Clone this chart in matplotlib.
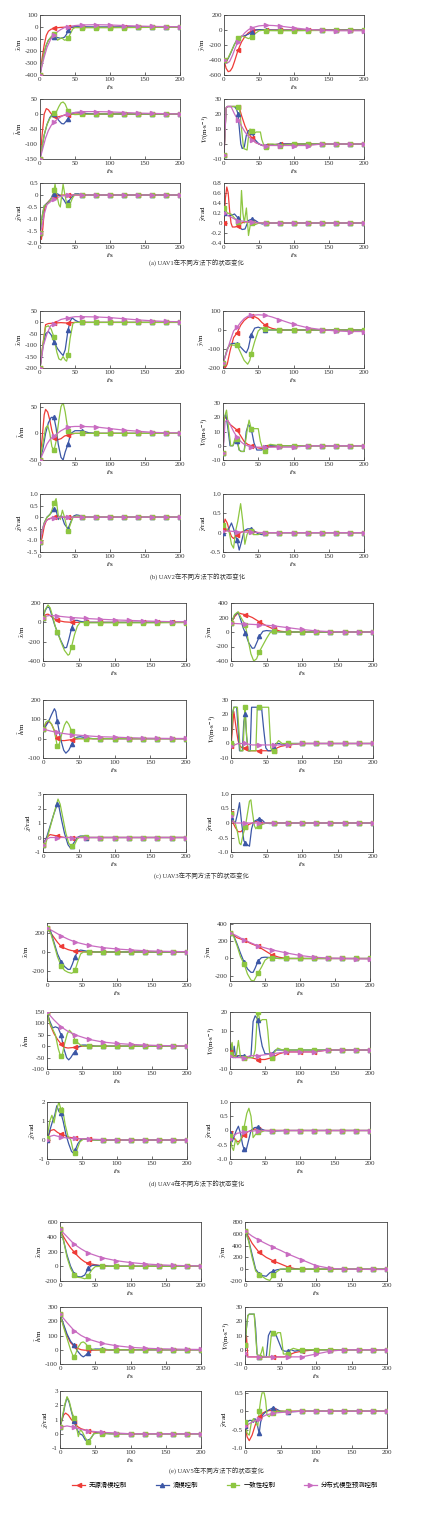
import numpy as np
import matplotlib
matplotlib.use("Agg")
import matplotlib.pyplot as plt
from matplotlib.lines import Line2D
from matplotlib.ticker import FuncFormatter

plt.rcParams['font.family'] = ['Liberation Serif', 'Noto Sans CJK SC']
plt.rcParams['mathtext.fontset'] = 'stix'
plt.rcParams['axes.unicode_minus'] = False

METHODS = ['无源滑模控制', '滑模控制', '一致性控制', '分布式模型预测控制']
COLORS = ['#ee3b37', '#3c57a6', '#8dc641', '#c96cc1']
MARKERS = ['<', '^', 's', '>']
CAPTIONS = ['(a) UAV1在不同方法下的状态变化', '(b) UAV2在不同方法下的状态变化',
            '(c) UAV3在不同方法下的状态变化', '(d) UAV4在不同方法下的状态变化',
            '(e) UAV5在不同方法下的状态变化']
YLABELS = [r'$\tilde{x}$/m', r'$\tilde{y}$/m', r'$\tilde{h}$/m',
           r'$\tilde{V}$/(m$\cdot$s$^{-1}$)', r'$\tilde{\chi}$/rad', r'$\tilde{\gamma}$/rad']

# each panel: [red, blue, green, magenta], every series is a list of (t, value)
# ---------------- UAV1 ----------------
A_X = [
    [(0, -400), (3, -260), (6, -150), (9, -70), (12, -35), (16, -18), (20, -12), (25, -6), (30, -3), (40, 0), (50, -2), (60, -3), (80, -3), (100, -2), (120, -1), (140, -1), (160, 0), (180, 0), (200, 0)],
    [(0, -400), (3, -300), (6, -210), (9, -150), (12, -110), (16, -88), (20, -80), (25, -88), (30, -95), (35, -85), (38, -60), (40, -25), (44, -3), (50, 2), (60, 2), (80, 0), (100, 0), (120, 0), (140, 0), (160, 0), (180, 0), (200, 0)],
    [(0, -400), (3, -300), (6, -210), (9, -150), (12, -110), (16, -80), (20, -60), (22, -75), (25, -110), (28, -100), (31, -90), (35, -110), (38, -105), (40, -95), (43, -60), (47, -15), (50, -5), (60, -6), (80, -6), (100, -6), (120, -5), (140, -4), (160, -3), (180, -2), (200, -2)],
    [(0, -400), (3, -320), (6, -250), (10, -170), (15, -105), (20, -65), (25, -40), (30, -20), (35, -5), (40, 3), (50, 12), (60, 17), (80, 19), (100, 17), (120, 12), (140, 8), (160, 5), (180, 3), (200, 2)],
]
A_Y = [
    [(0, -400), (3, -510), (6, -555), (9, -545), (12, -500), (15, -420), (20, -270), (25, -160), (30, -85), (35, -35), (40, -10), (45, 0), (50, 3), (60, 0), (80, 0), (100, 0), (120, 0), (140, 0), (160, 0), (180, 0), (200, 0)],
    [(0, -400), (3, -420), (6, -380), (10, -300), (15, -190), (20, -110), (25, -85), (30, -75), (35, -55), (40, -20), (45, 0), (50, 5), (60, 0), (80, -3), (100, -3), (120, -3), (140, -2), (160, -2), (180, -1), (200, -1)],
    [(0, -400), (3, -410), (6, -370), (10, -290), (15, -190), (20, -110), (25, -80), (30, -95), (35, -115), (40, -90), (45, -45), (50, -10), (55, -5), (60, -8), (80, -10), (100, -10), (120, -8), (140, -6), (160, -5), (180, -4), (200, -3)],
    [(0, -400), (4, -445), (8, -420), (12, -340), (16, -240), (20, -160), (25, -90), (30, -35), (35, 5), (40, 30), (50, 55), (60, 63), (70, 60), (80, 52), (100, 28), (120, 8), (140, -5), (160, -10), (180, -10), (200, -10)],
]
A_H = [
    [(0, -150), (3, -70), (6, 0), (9, 18), (12, 14), (15, 4), (18, -4), (20, -8), (25, -10), (30, -7), (35, -4), (40, -2), (50, 0), (60, 0), (80, 0), (100, 0), (120, 0), (140, 0), (160, 0), (180, 0), (200, 0)],
    [(0, -150), (3, -110), (6, -70), (10, -35), (14, -12), (18, 0), (20, 0), (23, -8), (27, -22), (31, -32), (34, -33), (37, -25), (40, -15), (44, 0), (50, 5), (55, 5), (60, 3), (70, 1), (80, 0), (100, 0), (120, 0), (140, 0), (160, 0), (180, 0), (200, 0)],
    [(0, -150), (3, -110), (6, -70), (10, -35), (14, -15), (18, -3), (20, 3), (24, 10), (27, 25), (30, 37), (33, 40), (36, 33), (40, 10), (44, 0), (50, -2), (60, -1), (80, 0), (100, 0), (120, 0), (140, 0), (160, 0), (180, 0), (200, 0)],
    [(0, -150), (4, -115), (8, -80), (12, -55), (16, -38), (20, -27), (25, -17), (30, -9), (35, -3), (40, 1), (50, 5), (60, 8), (80, 8), (100, 7), (120, 5), (140, 3), (160, 2), (180, 1), (200, 0)],
]
A_V = [
    [(0, -7), (3, 24), (5, 25), (20, 25), (22, 24), (25, 19), (30, 12), (35, 7), (40, 4), (45, 1), (50, 0), (55, -1), (60, -1), (80, 0), (100, 0), (120, 0), (140, 0), (160, 0), (180, 0), (200, 0)],
    [(0, -7), (3, 24), (5, 25), (15, 25), (18, 23), (20, 20), (22, 10), (24, 0), (26, -3), (29, -2), (32, 6), (35, 9), (40, 8), (44, 3), (50, 0), (55, -1), (60, -1), (80, 0), (100, 0), (120, 0), (140, 0), (160, 0), (180, 0), (200, 0)],
    [(0, -7), (3, 24), (5, 25), (20, 25), (22, 24), (25, 10), (28, -3), (33, -4), (35, 5), (37, 10), (40, 9), (43, 7), (46, 8), (52, 8), (54, 3), (57, -1), (60, -2), (62, 0), (70, 0), (80, -1), (100, 0), (120, 0), (140, 0), (160, 0), (180, 0), (200, 0)],
    [(0, -7), (3, 24), (5, 25), (10, 25), (15, 20), (20, 16), (25, 12), (30, 8), (35, 5), (40, 3), (45, 1), (55, -1), (60, -1), (80, -1), (100, -1), (120, -1), (140, 0), (160, 0), (180, 0), (200, 0)],
]
A_CHI = [
    [(0, -1.6), (2, -1.85), (4, -1.4), (6, -0.7), (8, -0.4), (12, -0.28), (16, -0.15), (20, -0.05), (30, 0), (40, 0), (60, 0), (80, 0), (100, 0), (120, 0), (140, 0), (160, 0), (180, 0), (200, 0)],
    [(0, -1.6), (3, -0.9), (6, -0.45), (10, -0.35), (15, -0.2), (18, 0), (20, 0.05), (25, 0.05), (30, -0.05), (34, -0.2), (37, -0.35), (40, -0.3), (45, -0.1), (50, 0.05), (55, 0.05), (60, 0), (80, 0), (100, 0), (120, 0), (140, 0), (160, 0), (180, 0), (200, 0)],
    [(0, -1.6), (3, -0.9), (6, -0.45), (10, -0.38), (15, -0.2), (18, -0.05), (20, 0.2), (21.5, 0.45), (24, 0.0), (27, -0.4), (29, -0.5), (31, 0), (33, 0.45), (35, 0.1), (38, -0.35), (40, -0.4), (42, -0.45), (46, -0.15), (50, 0.03), (55, 0.02), (60, 0), (80, 0), (100, 0), (120, 0), (140, 0), (160, 0), (180, 0), (200, 0)],
    [(0, -1.6), (3, -1.3), (6, -0.8), (10, -0.4), (15, -0.28), (20, -0.15), (30, -0.05), (40, 0), (60, 0), (80, 0), (100, 0), (120, 0), (140, 0), (160, 0), (180, 0), (200, 0)],
]
A_GAM = [
    [(0, 0), (2, 0.5), (4, 0.72), (6, 0.6), (8, 0.25), (10, 0), (12, -0.08), (16, -0.08), (20, -0.05), (25, 0), (30, 0.02), (40, 0.02), (50, 0), (60, 0), (80, 0), (100, 0), (120, 0), (140, 0), (160, 0), (180, 0), (200, 0)],
    [(0, 0.2), (5, 0.15), (10, 0.15), (15, 0.18), (20, 0.1), (23, -0.1), (26, -0.13), (30, -0.12), (35, 0.05), (40, 0.08), (45, 0.05), (50, 0), (55, -0.02), (60, 0), (80, 0), (100, 0), (120, 0), (140, 0), (160, 0), (180, 0), (200, 0)],
    [(0, 0.3), (5, 0.2), (10, 0.18), (15, 0.1), (20, 0.02), (23, -0.05), (25, 0.65), (27, 0.2), (29, 0.0), (32, 0.3), (35, -0.25), (38, 0.0), (40, 0), (45, -0.03), (50, 0), (60, 0), (80, 0), (100, 0), (120, 0), (140, 0), (160, 0), (180, 0), (200, 0)],
    [(0, 0.2), (5, 0.15), (10, 0.12), (15, 0.08), (20, 0.05), (30, 0.03), (40, 0.02), (50, 0), (60, 0), (80, 0), (100, 0), (120, 0), (140, 0), (160, 0), (180, 0), (200, 0)],
]

# ---------------- UAV2 ----------------
B_X = [
    [(0, -200), (4, -100), (8, -10), (12, -5), (20, -3), (30, -1), (40, -3), (50, 0), (60, 0), (80, 0), (100, 0), (120, 0), (140, 0), (160, 0), (180, 0), (200, 0)],
    [(0, -200), (4, -110), (8, -50), (12, -40), (16, -55), (20, -85), (25, -115), (30, -135), (33, -145), (36, -120), (40, -35), (43, 5), (46, 20), (50, 10), (55, 2), (60, 0), (80, 0), (100, 0), (120, 0), (140, 0), (160, 0), (180, 0), (200, 0)],
    [(0, -200), (4, -100), (8, -20), (12, -15), (16, -30), (20, -65), (24, -130), (27, -160), (30, -165), (33, -150), (36, -165), (38, -170), (40, -145), (43, -70), (47, -5), (50, 0), (60, 0), (80, 0), (100, 0), (120, 0), (140, 0), (160, 0), (180, 0), (200, 0)],
    [(0, -200), (5, -100), (10, -50), (15, -15), (20, -5), (25, 5), (30, 13), (40, 20), (50, 25), (60, 25), (80, 24), (100, 21), (120, 16), (140, 11), (160, 7), (180, 4), (200, 3)],
]
B_Y = [
    [(0, -180), (3, -200), (6, -180), (10, -110), (15, -40), (20, -15), (25, 25), (30, 50), (35, 65), (40, 72), (45, 70), (50, 60), (55, 40), (60, 25), (65, 15), (70, 8), (80, 0), (100, 0), (120, 0), (140, 0), (160, 0), (180, 0), (200, 0)],
    [(0, -175), (3, -140), (6, -100), (10, -75), (15, -70), (20, -72), (25, -90), (30, -110), (33, -120), (36, -95), (40, -25), (45, 10), (50, 15), (55, 8), (60, 0), (80, 0), (100, 0), (120, 0), (140, 0), (160, 0), (180, 0), (200, 0)],
    [(0, -175), (3, -140), (6, -100), (10, -78), (15, -80), (20, -80), (25, -120), (30, -160), (35, -180), (38, -160), (40, -125), (45, -60), (50, -5), (55, 12), (60, 5), (70, 0), (80, 0), (100, 0), (120, 0), (140, 0), (160, 0), (180, 0), (200, 0)],
    [(0, -175), (5, -120), (10, -60), (15, -5), (20, 15), (25, 40), (30, 60), (35, 72), (40, 77), (50, 80), (60, 78), (70, 68), (80, 55), (100, 30), (120, 12), (140, 2), (160, -5), (180, -8), (200, -8)],
]
B_H = [
    [(0, -50), (3, -10), (6, 35), (8, 45), (11, 40), (14, 25), (17, 5), (20, -8), (25, -12), (30, -10), (35, -5), (40, -3), (50, 0), (60, 0), (80, 0), (100, 0), (120, 0), (140, 0), (160, 0), (180, 0), (200, 0)],
    [(0, -50), (4, -30), (8, 0), (12, 20), (16, 30), (20, 30), (23, 10), (26, -20), (30, -45), (33, -50), (36, -35), (40, -20), (44, 0), (50, 5), (55, 5), (60, 5), (70, 1), (80, 0), (100, 0), (120, 0), (140, 0), (160, 0), (180, 0), (200, 0)],
    [(0, -50), (4, -20), (8, 10), (11, 15), (14, 0), (17, -25), (20, -32), (23, -15), (27, 25), (30, 50), (33, 58), (36, 40), (40, 5), (44, 0), (50, 0), (60, 0), (80, 0), (100, 0), (120, 0), (140, 0), (160, 0), (180, 0), (200, 0)],
    [(0, -50), (5, -35), (10, -20), (15, -10), (20, -5), (30, 5), (40, 12), (50, 13), (60, 13), (80, 12), (100, 9), (120, 6), (140, 4), (160, 2), (180, 1), (200, 1)],
]
B_V = [
    [(0, -5), (2, 20), (5, 19), (10, 15), (15, 13), (20, 11), (25, 7), (30, 3), (35, 1), (40, 0), (45, -1), (55, -2), (60, -1), (80, 0), (100, 0), (120, 0), (140, 0), (160, 0), (180, 0), (200, 0)],
    [(0, -5), (2, 20), (4, 22), (7, 12), (10, 0), (14, 0), (17, 3), (20, 3), (23, -3), (26, -4), (30, -4), (33, 10), (36, 15), (40, 12), (44, 2), (48, -3), (55, -3), (60, -1), (65, 0), (80, 0), (100, 0), (120, 0), (140, 0), (160, 0), (180, 0), (200, 0)],
    [(0, -5), (2, 20), (5, 25), (8, 12), (11, 0), (14, 0), (17, 5), (20, 5), (23, -3), (26, -4), (30, -4), (34, 10), (37, 18), (40, 12), (44, 12), (50, 12), (53, 3), (57, -3), (60, -4), (63, 0), (67, 1), (80, 0), (100, 0), (120, 0), (140, 0), (160, 0), (180, 0), (200, 0)],
    [(0, -5), (3, 17), (6, 18), (10, 15), (15, 10), (20, 6), (25, 3), (30, 1), (40, -1), (60, -1), (80, -1), (100, -1), (120, 0), (140, 0), (160, 0), (180, 0), (200, 0)],
]
B_CHI = [
    [(0, -1.05), (3, -0.9), (6, -0.4), (9, -0.15), (12, -0.08), (20, 0), (40, 0), (60, 0), (80, 0), (100, 0), (120, 0), (140, 0), (160, 0), (180, 0), (200, 0)],
    [(0, -1.05), (3, -0.6), (6, -0.25), (10, 0), (15, 0.15), (20, 0.35), (23, 0.3), (26, -0.1), (29, 0.05), (31, 0.05), (35, -0.3), (40, -0.5), (44, -0.2), (48, 0.05), (52, 0.1), (56, 0.08), (60, 0), (80, 0), (100, 0), (120, 0), (140, 0), (160, 0), (180, 0), (200, 0)],
    [(0, -1.05), (3, -0.6), (6, -0.25), (10, 0), (14, 0.1), (17, 0.3), (20, 0.6), (23, 0.8), (26, 0.1), (29, -0.1), (32, 0.3), (35, 0), (38, -0.4), (40, -0.6), (43, -0.35), (47, 0), (52, 0.05), (56, 0.05), (60, 0), (80, 0), (100, 0), (120, 0), (140, 0), (160, 0), (180, 0), (200, 0)],
    [(0, -1.05), (3, -0.6), (6, -0.3), (10, -0.12), (15, -0.06), (20, -0.03), (30, 0), (40, 0), (60, 0), (80, 0), (100, 0), (120, 0), (140, 0), (160, 0), (180, 0), (200, 0)],
]
B_GAM = [
    [(0, 0.1), (3, 0.35), (6, 0.25), (9, 0.05), (12, -0.1), (15, -0.15), (18, -0.1), (20, -0.05), (25, 0), (30, 0.05), (40, 0.05), (50, 0), (60, 0), (80, 0), (100, 0), (120, 0), (140, 0), (160, 0), (180, 0), (200, 0)],
    [(0, 0.0), (3, 0.1), (7, 0.05), (12, 0.25), (15, 0.1), (18, -0.1), (20, -0.2), (23, -0.45), (26, -0.25), (30, 0.05), (35, 0.1), (40, 0.1), (45, 0.03), (50, -0.03), (55, -0.05), (60, 0), (80, 0), (100, 0), (120, 0), (140, 0), (160, 0), (180, 0), (200, 0)],
    [(0, 0.2), (3, 0.05), (6, 0.1), (9, 0), (12, -0.3), (15, -0.4), (18, 0.05), (21, 0.3), (25, 0.75), (28, 0.3), (31, -0.3), (34, -0.05), (37, 0.05), (40, 0.05), (43, -0.05), (50, -0.05), (55, 0), (60, 0), (80, 0), (100, 0), (120, 0), (140, 0), (160, 0), (180, 0), (200, 0)],
    [(0, 0.05), (10, 0.04), (20, 0.02), (40, 0.01), (60, 0), (80, 0), (100, 0), (120, 0), (140, 0), (160, 0), (180, 0), (200, 0)],
]

# ---------------- UAV3 ----------------
C_X = [
    [(0, 50), (4, 80), (7, 85), (10, 70), (15, 40), (20, 20), (30, 5), (40, 0), (60, 0), (80, 0), (100, 0), (120, 0), (140, 0), (160, 0), (180, 0), (200, 0)],
    [(0, 50), (3, 120), (6, 160), (9, 150), (12, 80), (16, -20), (20, -100), (25, -190), (30, -265), (33, -260), (36, -180), (40, -60), (44, 20), (48, 20), (52, 10), (60, 0), (80, 0), (100, 0), (120, 0), (140, 0), (160, 0), (180, 0), (200, 0)],
    [(0, 50), (3, 130), (7, 180), (10, 150), (14, 50), (17, -40), (20, -100), (25, -200), (30, -290), (35, -340), (37, -330), (40, -250), (44, -130), (48, -40), (52, 0), (60, -5), (80, -5), (100, -5), (120, -5), (140, -5), (160, -5), (180, -3), (200, -3)],
    [(0, 50), (5, 65), (10, 72), (20, 65), (30, 57), (40, 50), (60, 40), (80, 32), (100, 25), (120, 20), (140, 15), (160, 10), (180, 7), (200, 5)],
]
C_Y = [
    [(0, 120), (5, 210), (10, 265), (15, 250), (20, 240), (30, 200), (40, 140), (50, 85), (60, 40), (70, 10), (80, 0), (100, 0), (120, 0), (140, 0), (160, 0), (180, 0), (200, 0)],
    [(0, 120), (5, 230), (10, 270), (14, 160), (17, 60), (20, -10), (25, -150), (30, -225), (33, -220), (37, -130), (40, -60), (45, 10), (50, 20), (55, 15), (60, 10), (70, 0), (80, 0), (100, 0), (120, 0), (140, 0), (160, 0), (180, 0), (200, 0)],
    [(0, 120), (5, 240), (10, 280), (14, 200), (20, 100), (24, -100), (28, -300), (32, -400), (36, -370), (40, -270), (45, -180), (50, -90), (55, -10), (60, 10), (70, 0), (80, 0), (100, 0), (120, 0), (140, 0), (160, 0), (180, 0), (200, 0)],
    [(0, 120), (10, 115), (20, 110), (30, 105), (40, 100), (60, 85), (80, 60), (100, 35), (120, 15), (140, 5), (160, 0), (180, 0), (200, 0)],
]
C_H = [
    [(0, 50), (4, 75), (8, 90), (12, 75), (16, 40), (20, 5), (25, -10), (30, -10), (40, -5), (50, 0), (60, 0), (80, 0), (100, 0), (120, 0), (140, 0), (160, 0), (180, 0), (200, 0)],
    [(0, 50), (4, 65), (8, 90), (12, 125), (16, 155), (18, 140), (20, 90), (23, 30), (26, -20), (29, -60), (32, -75), (36, -60), (40, -30), (44, 0), (48, 8), (52, 10), (60, 5), (70, 0), (80, 0), (100, 0), (120, 0), (140, 0), (160, 0), (180, 0), (200, 0)],
    [(0, 50), (4, 85), (8, 95), (12, 75), (15, 50), (18, 0), (20, -40), (23, -25), (26, 20), (30, 70), (33, 90), (36, 75), (40, 40), (44, 5), (48, 0), (60, 0), (80, 0), (100, 0), (120, 0), (140, 0), (160, 0), (180, 0), (200, 0)],
    [(0, 50), (10, 40), (20, 32), (30, 26), (40, 21), (60, 15), (80, 10), (100, 8), (120, 5), (140, 3), (160, 2), (180, 1), (200, 1)],
]
C_V = [
    [(0, -2), (2, 10), (4, 22), (6, 15), (8, 8), (10, 2), (13, -2), (16, -3), (20, -3), (25, -5), (40, -5), (50, -5), (60, -5), (65, -3), (70, -2), (80, -1), (100, 0), (120, 0), (140, 0), (160, 0), (180, 0), (200, 0)],
    [(0, 0), (2, 20), (4, 25), (8, 25), (10, 10), (12, -5), (16, -5), (18, 15), (20, 20), (22, 5), (24, -5), (27, -5), (29, 25), (40, 25), (43, 25), (46, 10), (49, -3), (52, -5), (56, -5), (60, -3), (63, 0), (68, 0), (72, -1), (80, 0), (100, 0), (120, 0), (140, 0), (160, 0), (180, 0), (200, 0)],
    [(0, 0), (2, 20), (4, 25), (9, 25), (11, 10), (13, -5), (17, -5), (19, 20), (20, 25), (22, 5), (24, -5), (35, -5), (37, 25), (40, 25), (53, 25), (56, -3), (58, -5), (60, -5), (64, 0), (67, 2), (72, 0), (80, 0), (100, 0), (120, 0), (140, 0), (160, 0), (180, 0), (200, 0)],
    [(0, -2), (5, -1), (10, 0), (20, 0), (30, -1), (40, -1), (60, -1), (80, -1), (100, 0), (120, 0), (140, 0), (160, 0), (180, 0), (200, 0)],
]
C_CHI = [
    [(0, -0.5), (5, 0), (10, 0.2), (15, 0.15), (20, 0.1), (30, 0), (40, 0), (60, 0), (80, 0), (100, 0), (120, 0), (140, 0), (160, 0), (180, 0), (200, 0)],
    [(0, -0.5), (5, 0), (10, 0.8), (15, 1.6), (20, 2.3), (22, 2.2), (26, 1.2), (30, 0.3), (35, -0.5), (38, -0.7), (40, -0.6), (44, -0.3), (48, 0), (52, 0.1), (57, 0.1), (60, 0), (80, 0), (100, 0), (120, 0), (140, 0), (160, 0), (180, 0), (200, 0)],
    [(0, -0.5), (4, -0.4), (10, 0.7), (15, 1.6), (21, 2.65), (24, 2.3), (28, 1.3), (32, 0.3), (36, -0.4), (40, -0.6), (44, -0.5), (48, -0.1), (52, 0.05), (56, 0.1), (60, 0.05), (65, 0), (80, 0), (100, 0), (120, 0), (140, 0), (160, 0), (180, 0), (200, 0)],
    [(0, -0.5), (5, -0.1), (10, 0), (20, 0), (40, 0), (60, 0), (80, 0), (100, 0), (120, 0), (140, 0), (160, 0), (180, 0), (200, 0)],
]
C_GAM = [
    [(0, 0.35), (3, 0), (6, -0.15), (10, -0.3), (14, -0.3), (18, -0.2), (20, -0.15), (25, -0.05), (30, 0), (35, 0.05), (40, 0.05), (45, 0), (60, 0), (80, 0), (100, 0), (120, 0), (140, 0), (160, 0), (180, 0), (200, 0)],
    [(0, 0.2), (3, 0.05), (6, 0.0), (9, 0.3), (12, 0.7), (15, 0), (18, -0.6), (20, -0.7), (23, -0.75), (26, -0.8), (29, -0.2), (32, 0.05), (36, 0.1), (40, 0.15), (44, 0.1), (48, 0), (55, -0.02), (60, 0), (80, 0), (100, 0), (120, 0), (140, 0), (160, 0), (180, 0), (200, 0)],
    [(0, 0.3), (3, 0.1), (6, 0), (9, -0.3), (12, -0.7), (14, -0.75), (17, -0.4), (20, -0.15), (23, 0.3), (26, 0.75), (28, 0.8), (30, 0.4), (33, -0.1), (35, -0.2), (38, -0.1), (40, -0.1), (44, -0.05), (50, 0), (60, 0), (80, 0), (100, 0), (120, 0), (140, 0), (160, 0), (180, 0), (200, 0)],
    [(0, 0.25), (3, 0.05), (6, 0), (10, 0), (20, 0), (40, 0), (60, 0), (80, 0), (100, 0), (120, 0), (140, 0), (160, 0), (180, 0), (200, 0)],
]

# ---------------- UAV4 ----------------
D_X = [
    [(0, 250), (5, 200), (10, 150), (15, 100), (20, 60), (25, 40), (30, 25), (35, 15), (40, 10), (45, 5), (50, 2), (60, 0), (80, 0), (100, 0), (120, 0), (140, 0), (160, 0), (180, 0), (200, 0)],
    [(0, 250), (5, 220), (10, 100), (15, -20), (20, -100), (25, -150), (30, -180), (33, -180), (36, -130), (40, -50), (44, 10), (48, 20), (52, 15), (60, 5), (70, 0), (80, 0), (100, 0), (120, 0), (140, 0), (160, 0), (180, 0), (200, 0)],
    [(0, 250), (5, 200), (10, 80), (15, -50), (20, -140), (25, -190), (30, -210), (35, -220), (38, -210), (40, -190), (44, -100), (48, -20), (52, 0), (60, 0), (80, 0), (100, 0), (120, 0), (140, 0), (160, 0), (180, 0), (200, 0)],
    [(0, 250), (10, 210), (20, 168), (30, 133), (40, 104), (60, 68), (80, 45), (100, 31), (120, 21), (140, 13), (160, 8), (180, 5), (200, 3)],
]
D_Y = [
    [(0, 300), (5, 270), (10, 240), (20, 212), (30, 172), (40, 140), (50, 90), (60, 40), (70, 15), (80, 0), (100, 0), (120, 0), (140, 0), (160, 0), (180, 0), (200, 0)],
    [(0, 300), (5, 270), (10, 170), (15, 60), (20, -40), (25, -120), (30, -160), (33, -160), (36, -110), (40, -30), (45, 10), (50, 15), (60, 10), (70, 0), (80, 0), (100, 0), (120, 0), (140, 0), (160, 0), (180, 0), (200, 0)],
    [(0, 300), (5, 260), (10, 150), (15, 20), (20, -60), (25, -180), (30, -250), (34, -260), (38, -200), (40, -170), (45, -100), (50, -20), (55, 10), (60, 5), (70, 0), (80, 0), (100, 0), (120, 0), (140, 0), (160, 0), (180, 0), (200, 0)],
    [(0, 300), (10, 260), (20, 215), (30, 180), (40, 145), (60, 100), (80, 65), (100, 35), (120, 15), (140, 5), (160, 0), (180, -3), (200, -5)],
]
D_H = [
    [(0, 150), (5, 90), (10, 55), (15, 30), (20, 10), (25, -5), (30, -8), (40, -5), (50, 0), (60, 0), (80, 0), (100, 0), (120, 0), (140, 0), (160, 0), (180, 0), (200, 0)],
    [(0, 150), (4, 110), (8, 80), (12, 85), (16, 80), (20, 50), (24, -10), (28, -50), (31, -60), (34, -50), (38, -30), (40, -25), (44, -5), (50, 5), (55, 5), (60, 3), (70, 0), (80, 0), (100, 0), (120, 0), (140, 0), (160, 0), (180, 0), (200, 0)],
    [(0, 150), (4, 100), (8, 75), (12, 50), (16, -10), (19, -40), (20, -42), (22, -35), (25, 10), (29, 55), (32, 70), (35, 60), (38, 45), (40, 25), (44, 15), (48, 5), (52, 0), (60, 0), (80, 0), (100, 0), (120, 0), (140, 0), (160, 0), (180, 0), (200, 0)],
    [(0, 150), (10, 115), (20, 85), (30, 65), (40, 50), (60, 30), (80, 18), (100, 12), (120, 8), (140, 5), (160, 3), (180, 2), (200, 1)],
]
D_V = [
    [(0, -1), (2, 3), (4, -3), (8, -3), (12, -3), (16, -3), (20, -4), (30, -4), (40, -5), (50, -5), (60, -4), (70, -2), (80, -1), (100, -1), (120, -1), (140, 0), (160, 0), (180, 0), (200, 0)],
    [(0, -2), (2, 3), (4, -4), (6, 2), (8, -4), (12, -3), (16, -3), (20, -3), (25, -4), (30, -3), (33, 15), (36, 18), (40, 16), (43, 8), (46, 2), (50, -2), (55, -2), (60, -2), (65, 0), (80, 0), (100, 0), (120, 0), (140, 0), (160, 0), (180, 0), (200, 0)],
    [(0, -2), (3, 4), (5, -4), (9, -3), (12, 5), (15, -4), (20, -4), (25, -4), (30, -4), (33, -4), (36, 0), (39, 18), (40, 20), (43, 15), (46, 16), (52, 16), (54, 10), (57, -3), (60, -4), (64, -1), (68, 1), (75, 0), (80, 0), (100, 0), (120, 0), (140, 0), (160, 0), (180, 0), (200, 0)],
    [(0, -3), (5, -4), (10, -4), (20, -4), (30, -3), (40, -3), (60, -2), (80, -1), (100, -1), (120, -1), (140, 0), (160, 0), (180, 0), (200, 0)],
]
D_CHI = [
    [(0, 0), (5, 0.5), (10, 0.55), (15, 0.4), (20, 0.3), (25, 0.25), (30, 0.15), (40, 0.1), (50, 0.05), (60, 0.03), (80, 0), (100, 0), (120, 0), (140, 0), (160, 0), (180, 0), (200, 0)],
    [(0, 0), (4, 0.5), (8, 1.0), (11, 1.3), (14, 1.8), (17, 1.5), (20, 1.4), (23, 1.0), (27, 0.3), (31, -0.2), (35, -0.6), (38, -0.7), (40, -0.55), (44, -0.2), (48, 0), (52, 0.05), (58, 0.05), (62, 0), (80, 0), (100, 0), (120, 0), (140, 0), (160, 0), (180, 0), (200, 0)],
    [(0, 0.1), (4, 1.0), (7, 1.3), (10, 0.9), (13, 1.5), (17, 2.0), (20, 1.6), (22, 1.7), (26, 0.8), (30, 0.2), (34, 0), (37, -0.5), (40, -0.7), (43, -0.5), (47, -0.1), (52, 0.05), (58, 0.05), (62, 0), (80, 0), (100, 0), (120, 0), (140, 0), (160, 0), (180, 0), (200, 0)],
    [(0, 0), (5, 0.2), (10, 0.25), (20, 0.15), (30, 0.1), (40, 0.08), (60, 0.05), (80, 0.02), (100, 0), (120, 0), (140, 0), (160, 0), (180, 0), (200, 0)],
]
D_GAM = [
    [(0, -0.1), (4, -0.2), (8, -0.35), (12, -0.4), (16, -0.3), (20, -0.15), (25, -0.05), (30, 0), (35, 0.05), (40, 0.05), (45, 0), (60, 0), (80, 0), (100, 0), (120, 0), (140, 0), (160, 0), (180, 0), (200, 0)],
    [(0, -0.1), (3, -0.4), (6, -0.2), (9, 0), (12, 0.15), (15, -0.1), (18, -0.5), (20, -0.65), (23, -0.7), (26, -0.4), (30, 0), (35, 0.1), (40, 0.12), (45, 0.05), (50, 0), (60, -0.02), (80, 0), (100, 0), (120, 0), (140, 0), (160, 0), (180, 0), (200, 0)],
    [(0, -0.2), (3, -0.6), (5, -0.7), (8, -0.3), (11, -0.5), (14, -0.4), (17, -0.2), (20, 0.1), (24, 0.6), (27, 0.78), (30, 0.5), (33, -0.25), (36, -0.15), (40, -0.05), (45, -0.05), (50, 0), (60, 0), (80, 0), (100, 0), (120, 0), (140, 0), (160, 0), (180, 0), (200, 0)],
    [(0, -0.3), (5, -0.2), (10, -0.1), (20, -0.05), (40, 0), (60, 0), (80, 0), (100, 0), (120, 0), (140, 0), (160, 0), (180, 0), (200, 0)],
]

# ---------------- UAV5 ----------------
E_X = [
    [(0, 500), (5, 400), (10, 320), (15, 250), (20, 195), (25, 140), (30, 95), (35, 60), (40, 40), (50, 20), (60, 5), (70, 0), (80, 0), (100, 0), (120, 0), (140, 0), (160, 0), (180, 0), (200, 0)],
    [(0, 500), (5, 350), (10, 150), (15, 0), (20, -100), (25, -140), (30, -145), (35, -120), (40, -30), (45, 10), (50, 15), (60, 5), (70, 0), (80, 0), (100, 0), (120, 0), (140, 0), (160, 0), (180, 0), (200, 0)],
    [(0, 500), (5, 350), (10, 120), (15, -30), (20, -120), (25, -150), (30, -155), (35, -170), (38, -160), (40, -130), (45, -50), (50, -5), (60, 0), (80, 0), (100, 0), (120, 0), (140, 0), (160, 0), (180, 0), (200, 0)],
    [(0, 500), (10, 400), (20, 300), (30, 235), (40, 180), (60, 115), (80, 75), (100, 50), (120, 32), (140, 20), (160, 12), (180, 7), (200, 3)],
]
E_Y = [
    [(0, 650), (5, 550), (10, 440), (15, 360), (20, 285), (30, 200), (40, 140), (50, 90), (60, 40), (70, 10), (80, 0), (100, 0), (120, 0), (140, 0), (160, 0), (180, 0), (200, 0)],
    [(0, 650), (5, 500), (10, 250), (15, 0), (20, -80), (25, -110), (30, -120), (35, -60), (40, -30), (45, -10), (50, 0), (60, 0), (80, 0), (100, 0), (120, 0), (140, 0), (160, 0), (180, 0), (200, 0)],
    [(0, 650), (5, 480), (10, 200), (15, -30), (20, -90), (25, -130), (30, -170), (35, -190), (40, -100), (45, -40), (50, 0), (55, 5), (60, 0), (80, 0), (100, 0), (120, 0), (140, 0), (160, 0), (180, 0), (200, 0)],
    [(0, 650), (10, 560), (20, 490), (30, 430), (40, 370), (50, 320), (60, 260), (80, 160), (100, 60), (120, 15), (140, 0), (160, 0), (180, -5), (200, -5)],
]
E_H = [
    [(0, 250), (5, 170), (10, 100), (15, 50), (20, 25), (25, 10), (30, 0), (35, -3), (40, -3), (50, -3), (60, -2), (80, -1), (100, 0), (120, 0), (140, 0), (160, 0), (180, 0), (200, 0)],
    [(0, 250), (5, 180), (10, 110), (15, 60), (20, 30), (25, -10), (30, -40), (33, -50), (36, -40), (40, -20), (45, 0), (50, 5), (60, 5), (70, 0), (80, 0), (100, 0), (120, 0), (140, 0), (160, 0), (180, 0), (200, 0)],
    [(0, 250), (5, 160), (10, 80), (15, 0), (19, -50), (20, -48), (22, -30), (26, 20), (30, 50), (33, 55), (36, 45), (40, 20), (45, 5), (50, 0), (60, 0), (80, 0), (100, 0), (120, 0), (140, 0), (160, 0), (180, 0), (200, 0)],
    [(0, 250), (10, 190), (20, 135), (30, 100), (40, 75), (60, 45), (80, 28), (100, 17), (120, 11), (140, 7), (160, 5), (180, 3), (200, 2)],
]
E_V = [
    [(0, 3), (2, 10), (4, -5), (10, -5), (20, -5), (30, -5), (40, -5), (50, -5), (55, -5), (60, -4), (70, -2), (80, -1), (100, 0), (120, 0), (140, 0), (160, 0), (180, 0), (200, 0)],
    [(0, 3), (2, 15), (4, 24), (6, 25), (13, 25), (15, 15), (17, -3), (20, -5), (25, -5), (30, -5), (33, 10), (36, 13), (40, 12), (44, 10), (48, 5), (52, 0), (56, -1), (60, -1), (65, 0), (70, -1), (80, 0), (100, 0), (120, 0), (140, 0), (160, 0), (180, 0), (200, 0)],
    [(0, 3), (2, 15), (4, 24), (6, 25), (13, 25), (15, 10), (17, -3), (20, -5), (23, -2), (25, 2), (27, -5), (30, -5), (34, -5), (37, 10), (40, 12), (43, 10), (46, 12), (50, 12), (52, 6), (54, -3), (60, -3), (64, 0), (68, 1), (75, 0), (80, 0), (100, 0), (120, 0), (140, 0), (160, 0), (180, 0), (200, 0)],
    [(0, -2), (3, -5), (10, -5), (20, -5), (40, -5), (60, -5), (80, -5), (90, -4), (100, -3), (120, -1), (140, 0), (160, 0), (180, 0), (200, 0)],
]
E_CHI = [
    [(0, 0.5), (5, 1.3), (8, 1.45), (12, 1.3), (16, 1.0), (20, 0.8), (25, 0.5), (30, 0.35), (40, 0.2), (50, 0.1), (60, 0.05), (80, 0), (100, 0), (120, 0), (140, 0), (160, 0), (180, 0), (200, 0)],
    [(0, 0.5), (3, 1.0), (7, 2.0), (10, 2.55), (13, 2.2), (17, 1.4), (20, 0.9), (24, 0.3), (28, 0), (32, -0.1), (36, -0.45), (40, -0.5), (44, -0.3), (48, 0), (55, 0.1), (60, 0.05), (70, 0), (80, 0), (100, 0), (120, 0), (140, 0), (160, 0), (180, 0), (200, 0)],
    [(0, 0.5), (3, 1.1), (7, 2.1), (10, 2.6), (13, 2.3), (17, 1.5), (20, 1.1), (23, 0.6), (26, -0.2), (29, 0.3), (32, 0.1), (36, -0.3), (40, -0.55), (44, -0.3), (48, 0), (55, 0.05), (60, 0), (80, 0), (100, 0), (120, 0), (140, 0), (160, 0), (180, 0), (200, 0)],
    [(0, 0.5), (5, 0.5), (10, 0.55), (15, 0.5), (20, 0.45), (30, 0.3), (40, 0.2), (50, 0.15), (60, 0.1), (80, 0.05), (100, 0), (120, 0), (140, 0), (160, 0), (180, 0), (200, 0)],
]
E_GAM = [
    [(0, -0.4), (3, -0.7), (6, -0.8), (10, -0.65), (14, -0.4), (18, -0.2), (20, -0.15), (25, -0.05), (30, 0), (35, 0.02), (40, 0.02), (50, 0), (60, 0), (80, 0), (100, 0), (120, 0), (140, 0), (160, 0), (180, 0), (200, 0)],
    [(0, -0.4), (3, -0.3), (6, -0.25), (9, -0.25), (12, -0.3), (14, -0.2), (17, -0.35), (20, -0.6), (22, -0.3), (25, -0.1), (30, 0), (35, 0.05), (40, 0.1), (45, 0.05), (50, 0), (60, -0.02), (80, 0), (100, 0), (120, 0), (140, 0), (160, 0), (180, 0), (200, 0)],
    [(0, -0.3), (3, -0.6), (6, -0.65), (9, -0.3), (12, -0.2), (15, -0.3), (18, -0.4), (20, 0), (22, 0.3), (24, 0.5), (27, 0.5), (29, 0.3), (31, -0.1), (34, -0.15), (38, -0.05), (40, -0.05), (45, 0), (60, 0), (80, 0), (100, 0), (120, 0), (140, 0), (160, 0), (180, 0), (200, 0)],
    [(0, -0.4), (5, -0.35), (10, -0.3), (20, -0.2), (30, -0.1), (40, -0.05), (60, -0.02), (80, 0), (100, 0), (120, 0), (140, 0), (160, 0), (180, 0), (200, 0)],
]

GROUPS = [
    [A_X, A_Y, A_H, A_V, A_CHI, A_GAM],
    [B_X, B_Y, B_H, B_V, B_CHI, B_GAM],
    [C_X, C_Y, C_H, C_V, C_CHI, C_GAM],
    [D_X, D_Y, D_H, D_V, D_CHI, D_GAM],
    [E_X, E_Y, E_H, E_V, E_CHI, E_GAM],
]

# axis ranges / ticks for each panel
YLIMS = [
    [(-400, 100), (-600, 200), (-150, 50), (-10, 30), (-2, 0.5), (-0.4, 0.8)],
    [(-200, 50), (-200, 100), (-50, 57), (-10, 30), (-1.5, 1.0), (-0.5, 1.0)],
    [(-400, 200), (-400, 400), (-100, 200), (-10, 30), (-1, 3), (-1, 1)],
    [(-300, 300), (-260, 410), (-100, 150), (-10, 20), (-1, 2), (-1, 1)],
    [(-200, 600), (-200, 800), (-100, 300), (-10, 30), (-1, 3), (-1, 0.55)],
]
YTICKS = [
    [np.arange(-400, 101, 100), np.arange(-600, 201, 200), np.arange(-150, 51, 50), np.arange(-10, 31, 10),
     np.arange(-2, 0.51, 0.5), np.arange(-0.4, 0.81, 0.2)],
    [np.arange(-200, 51, 50), np.arange(-200, 101, 100), [-50, 0, 50], np.arange(-10, 31, 10),
     np.arange(-1.5, 1.01, 0.5), np.arange(-0.5, 1.01, 0.5)],
    [np.arange(-400, 201, 200), np.arange(-400, 401, 200), np.arange(-100, 201, 100), np.arange(-10, 31, 10),
     np.arange(-1, 3.1, 1), np.arange(-1, 1.01, 0.5)],
    [[-200, 0, 200], [-200, 0, 200, 400], np.arange(-100, 151, 50), np.arange(-10, 21, 10),
     np.arange(-1, 2.1, 1), np.arange(-1, 1.01, 0.5)],
    [np.arange(-200, 601, 200), np.arange(-200, 801, 200), np.arange(-100, 301, 100), np.arange(-10, 31, 10),
     np.arange(-1, 3.1, 1), [-1, -0.5, 0, 0.5]],
]
DECIMALS = [
    [0, 0, 0, 0, 1, 1],
    [0, 0, 0, 0, 1, 1],
    [0, 0, 0, 0, 0, 1],
    [0, 0, 0, 0, 0, 1],
    [0, 0, 0, 0, 0, 1],
]

# pixel boxes: (left col x0, x1), (right col x0, x1), rows [(y0, y1)...], caption y, caption x
W, H = 444, 1524
LAYOUT = [
    ((40, 180), (224, 364), [(15, 75), (99, 159), (183, 243)], 263, 196),
    ((40, 180), (223, 364), [(311, 368), (403, 460), (494, 552)], 577, 197),
    ((43, 186), (231, 373), [(603, 661), (700, 758), (794, 852)], 876, 201),
    ((47, 187), (230, 370), [(923, 981), (1012, 1069), (1102, 1159)], 1184, 197),
    ((60, 201), (245, 387), [(1222, 1281), (1307, 1364), (1391, 1448)], 1471, 216),
]

FS = 5


def make_fmt(dec):
    def f(v, pos):
        if abs(v) < 1e-9:
            return '0'
        return ('%.1f' % v) if dec else ('%d' % round(v))
    return FuncFormatter(f)


def draw(ax, series):
    for s, c, m in zip(series, COLORS, MARKERS):
        t, v = np.array(s, dtype=float).T
        ax.plot(t, v, color=c, lw=0.9, zorder=2)
        mk = np.isclose(t % 20, 0)
        ax.plot(t[mk], v[mk], ls='none', marker=m, ms=3, color=c, zorder=3)


fig = plt.figure(figsize=(W / 100, H / 100), dpi=100)
fig.patch.set_facecolor('white')

for g, panels in enumerate(GROUPS):
    lcol, rcol, rows, cap_y, cap_x = LAYOUT[g]
    for i, series in enumerate(panels):
        x0, x1 = (lcol, rcol)[i % 2]
        y0, y1 = rows[i // 2]
        ax = fig.add_axes([x0 / W, 1 - y1 / H, (x1 - x0) / W, (y1 - y0) / H])
        draw(ax, series)
        ax.set_xlim(0, 200)
        ax.set_xticks([0, 50, 100, 150, 200])
        ax.set_ylim(*YLIMS[g][i])
        ax.set_yticks(YTICKS[g][i])
        ax.yaxis.set_major_formatter(make_fmt(DECIMALS[g][i]))
        ax.tick_params(direction='in', length=2, width=0.5, labelsize=FS, pad=1.5, colors='#333333')
        for sp in ax.spines.values():
            sp.set_linewidth(0.6)
            sp.set_color('#444444')
        ax.set_xlabel(r'$t$/s', fontsize=FS, labelpad=1)
        ax.set_ylabel(YLABELS[i], fontsize=FS, labelpad=1)
    fig.text(cap_x / W, 1 - cap_y / H, CAPTIONS[g], fontsize=4.6, ha='center', va='center',
             color='#333333', family=['Liberation Serif', 'Noto Sans CJK SC'])

handles = [Line2D([], [], color=c, marker=m, ms=3, lw=0.9) for c, m in zip(COLORS, MARKERS)]
leg = fig.legend(handles, METHODS, loc='center', bbox_to_anchor=(225 / W, 1 - 1485 / H), ncol=4,
                 frameon=False, fontsize=4.6, handlelength=2.0, handletextpad=0.6, columnspacing=4.5,
                 prop={'family': ['Noto Sans CJK SC'], 'size': 4.6})

fig.savefig('out.png', dpi=100)
